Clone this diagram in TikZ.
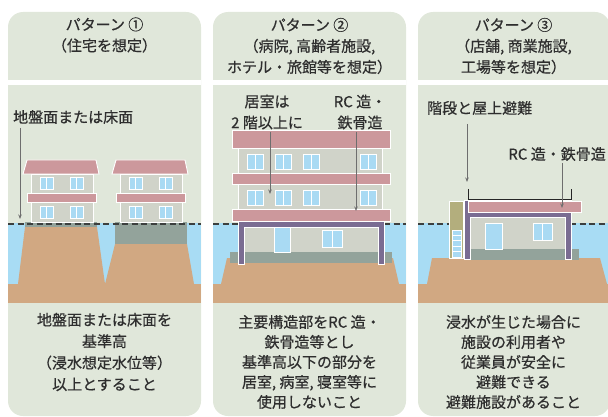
\documentclass[tikz,border=0pt]{standalone}
\usepackage{fontspec}
\setmainfont{Noto Sans CJK JP}[FakeBold=0.6]
\usetikzlibrary{arrows.meta}

\definecolor{panelbg}{HTML}{E0E7DA}
\definecolor{water}{HTML}{A8DCF4}
\definecolor{soil}{HTML}{D1A882}
\definecolor{roof}{HTML}{CC989C}
\definecolor{wall}{HTML}{D0D3C9}
\definecolor{glass}{HTML}{A9DAF3}
\definecolor{footing}{HTML}{93A39B}
\definecolor{steel}{HTML}{7A6C92}
\definecolor{stair}{HTML}{B3AE7D}
\definecolor{ink}{HTML}{2E2E2E}
\definecolor{leader}{HTML}{6E6E6E}
\definecolor{dashline}{HTML}{3C3F3E}

% window with a white frame and a central mullion
\newcommand\glasswin[4]{%
  \fill[glass,draw=white,line width=0.9pt] (#1,#2) rectangle (#3,#4);
  \draw[white,line width=0.9pt] ({(#1+#3)/2},#2) -- ({(#1+#3)/2},#4);}

% two-storey wooden house
\newcommand\smallhouse[1]{%
  \begin{scope}[xshift=#1pt]
    \fill[wall,part] (31,174) rectangle (93,222);
    \fill[roof,part] (27,160) -- (96,160) -- (99,174) -- (23,174) -- cycle;
    \fill[roof,part] (27,193) rectangle (96,202);
    \glasswin{40}{177}{53}{189}\glasswin{70}{177}{83}{189}
    \glasswin{40}{206}{53}{218}\glasswin{70}{206}{83}{218}
  \end{scope}}

\begin{document}
\begin{tikzpicture}[x=1pt,y=-1pt,
  panel/.style={fill=panelbg,rounded corners=15pt},
  part/.style={draw=white,line width=0.9pt},
  txt/.style={text=ink,inner sep=0pt,align=center,font=\fontsize{15}{21}\selectfont},
  lowtxt/.style={text=ink,inner sep=0pt,align=center,font=\fontsize{15}{20}\selectfont},
  pointer/.style={draw=leader,line width=0.8pt,-{Stealth[length=4.5pt,width=3.5pt]}},
  floodline/.style={draw=dashline,line width=1.6pt,dash pattern=on 6pt off 3.5pt},
  bracket/.style={draw=black!85,line width=1pt}]
\useasboundingbox (0,0) rectangle (608,417);

% ---------- panel backgrounds ----------
\foreach \xa/\xb in {8/201,213/406,418/610}{
  \fill[panel] (\xa,12) rectangle (\xb,416);
  \fill[white] (\xa,80) rectangle (\xb,85);
  \fill[water] (\xa,223) rectangle (\xb,284);
  \fill[soil] (\xa,284) rectangle (\xb,303);
}

% ---------- panel 1: raised ground ----------
\fill[soil] (25,227) -- (97,227) -- (105,284) -- (18,284) -- cycle;
\fill[soil] (115,244) -- (187,244) -- (194,284) -- (105,284) -- cycle;
\fill[footing] (25,222) rectangle (97,227);
\fill[footing] (115,222) rectangle (187,244);
\draw[floodline] (8,224) -- (201,224);
\smallhouse{0}
\smallhouse{89}

\node[txt,anchor=west] (p1lbl) at (13,117) {地盤面または床面};
\coordinate (p1a) at (20,128);
\coordinate (p1b) at (20,219);
\draw[pointer] (p1a) -- (p1b);

\node[txt] (p1head) at (104.5,35) {パターン ①\\（住宅を想定）};
\node[lowtxt,font=\fontsize{15}{21.5}\selectfont] (p1note) at (104.5,352)
  {地盤面または床面を\\基準高\\（浸水想定水位等）\\以上とすること};

% ---------- panel 2: pilotis building ----------
\fill[soil] (227,258) -- (393,258) -- (399,284) -- (221,284) -- cycle;
\draw[floodline] (213,224) -- (406,224);
\fill[footing] (230,252) rectangle (392,263);
\fill[wall] (244,227) rectangle (378,252);
\fill[steel,part] (238,221) -- (384,221) -- (384,264) -- (378,264) -- (378,227)
  -- (244,227) -- (244,264) -- (238,264) -- cycle;
\fill[glass,part] (274,227) rectangle (290,252);
\glasswin{322}{230}{342}{247}
\fill[wall,part] (238,148) rectangle (382,209);
\fill[roof,part] (232,130) rectangle (390,148);
\fill[roof,part] (232,173) rectangle (390,184);
\fill[roof,part] (232,209) rectangle (390,221);
\foreach \yy in {154,190}{
  \glasswin{247}{\yy}{263}{\yy+15}
  \glasswin{275}{\yy}{291}{\yy+15}
  \glasswin{303}{\yy}{319}{\yy+15}
  \glasswin{360}{\yy}{376}{\yy+15}
}

\node[txt] (p2lblA) at (267,112) {居室は\\2 階以上に};
\node[txt] (p2lblB) at (360,112) {RC 造・\\鉄骨造};
\coordinate (p2a) at (270,132);
\coordinate (p2b) at (270,194);
\coordinate (p2c) at (356,132);
\coordinate (p2d) at (356,211);
\draw[pointer] (p2a) -- (p2b);
\draw[pointer] (p2c) -- (p2d);

\node[txt] (p2head) at (309.5,46) {パターン ②\\（病院, 高齢者施設,\\ホテル・旅館等を想定）};
\node[lowtxt] (p2note) at (309.5,362)
  {主要構造部をRC 造・\\鉄骨造等とし\\基準高以下の部分を\\居室, 病室, 寝室等に\\使用しないこと};

% ---------- panel 3: building with roof refuge ----------
\fill[soil] (432,258) -- (600,258) -- (607,284) -- (427,284) -- cycle;
\draw[floodline] (418,224) -- (610,224);
\fill[footing] (470,249) rectangle (579,260);
\fill[wall] (470,217) rectangle (565,249);
\fill[steel,part] (464,200) -- (571,200) -- (571,259) -- (565,259) -- (565,217)
  -- (470,217) -- (470,259) -- (464,259) -- cycle;
\fill[roof,part] (468,201) rectangle (581,212);
\fill[glass,part] (485,223) rectangle (502,249);
\glasswin{533}{223}{552}{240}
% stair tower with ladder
\fill[stair,part] (449,201) rectangle (463,258);
\fill[glass,draw=white,line width=0.8pt] (452,230) rectangle (461,257);
\foreach \yy in {235.4,240.8,246.2,251.6}
  \draw[white,line width=0.9pt] (452,\yy) -- (461,\yy);
\draw[bracket] (468,189) -- (468,199.5) -- (571,199.5) -- (571,189);

\node[txt,anchor=west] (p3lblA) at (427,108) {階段と屋上避難};
\node[txt,anchor=east] (p3lblB) at (606,154) {RC 造・鉄骨造};
\coordinate (p3a) at (467,124);
\coordinate (p3b) at (467,182);
\coordinate (p3c) at (562,163);
\coordinate (p3d) at (562,208);
\draw[pointer] (p3a) -- (p3b);
\draw[pointer] (p3c) -- (p3d);

\node[txt] (p3head) at (513.5,46) {パターン ③\\（店舗, 商業施設,\\工場等を想定）};
\node[lowtxt] (p3note) at (513.5,362)
  {浸水が生じた場合に\\施設の利用者や\\従業員が安全に\\避難できる\\避難施設があること};
\end{tikzpicture}
\end{document}
